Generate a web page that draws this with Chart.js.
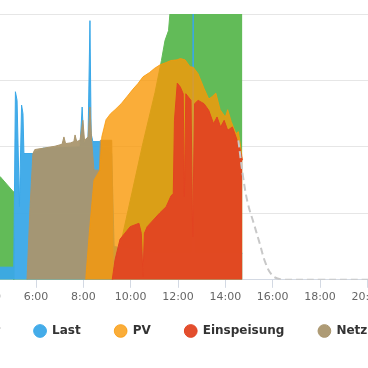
<!DOCTYPE html>
<html>
<head>
<meta charset="utf-8">
<script src="https://cdn.jsdelivr.net/npm/chart.js@4/dist/chart.umd.min.js"></script>
<style>
  html, body { margin:0; padding:0; background:#fff; width:368px; height:368px; overflow:hidden; }
  #wrap { position:absolute; left:-151px; top:0; width:633px; height:368px; }
</style>
</head>
<body>
<div id="wrap"><canvas id="chart"></canvas></div>
<script>
// values: [hour of day, watt]
const speicher = [[4.0,1650],[4.48,1555],[5.03,1330],[5.06,0],[9.17,0],[9.3,100],[9.9,1060],[10.52,2060],[11.03,2820],[11.3,3300],[11.45,3600],[11.6,3750],[11.75,4400],[14.72,4400]];
const last = [[4.0,190],[5.06,190],[5.13,2830],[5.2,2700],[5.3,1100],[5.39,2630],[5.45,2500],[5.49,1900],[5.87,1900],[6.3,1980],[7.86,2000],[7.95,2600],[8.02,2050],[8.2,2150],[8.28,3900],[8.33,2200],[8.4,2080],[8.7,2080],[8.75,2000],[9.2,1900],[9.3,500],[11.0,400],[12.6,400],[12.64,4400],[12.68,400],[14.72,400]];
const pv = [[8.1,0],[8.25,700],[8.45,1500],[8.7,1650],[8.78,2150],[8.96,2410],[9.15,2500],[9.34,2560],[9.6,2650],[9.84,2755],[10.1,2870],[10.3,2950],[10.52,3055],[10.8,3120],[11.0,3180],[11.24,3235],[11.5,3270],[11.7,3300],[11.96,3310],[12.1,3330],[12.3,3310],[12.51,3205],[12.64,3200],[12.85,3100],[13.1,2880],[13.3,2720],[13.45,2760],[13.6,2810],[13.78,2560],[14.0,2450],[14.1,2560],[14.25,2380],[14.45,2200],[14.55,2230],[14.65,2000],[14.72,1800]];
const einspeisung = [[9.22,0],[9.34,300],[9.55,610],[9.8,720],[9.98,800],[10.35,850],[10.45,700],[10.52,50],[10.58,700],[10.7,800],[11.24,1010],[11.5,1100],[11.7,1260],[11.8,1300],[11.85,2400],[11.97,2960],[12.1,2900],[12.22,2800],[12.27,1250],[12.33,2800],[12.55,2700],[12.62,650],[12.7,2650],[12.85,2700],[13.1,2650],[13.3,2550],[13.5,2350],[13.65,2450],[13.8,2300],[13.95,2400],[14.1,2250],[14.3,2300],[14.45,2150],[14.6,2000],[14.72,1800]];
const netzbezug = [[5.62,0],[5.75,1100],[5.87,1900],[5.95,1960],[6.3,1980],[6.8,2010],[7.1,2040],[7.18,2150],[7.25,2050],[7.45,2060],[7.6,2080],[7.65,2180],[7.72,2080],[7.86,2100],[7.98,2400],[8.05,2100],[8.2,2150],[8.28,2600],[8.35,2100],[8.45,1650],[8.68,1650],[8.72,2100],[9.2,2100],[9.26,0]];
const prognose = [[14.55,2100],[14.75,1550],[14.95,1150],[15.2,850],[15.45,550],[15.7,250],[15.95,80],[16.2,20],[16.5,0],[18,0],[20,0],[22,0],[24,0]];

const pts = a => a.map(([x,y]) => ({x, y}));

const area = (label, data, color, fill, order) => ({
  label, data: pts(data), order,
  borderColor: color, backgroundColor: fill,
  borderWidth: 1, fill: 'origin', pointRadius: 0, tension: 0
});

const ds = [
  area('Speicher',    speicher,    'rgb(98,187,88)',  'rgb(98,187,88)',        4),
  area('Last',        last,        'rgb(58,168,232)', 'rgba(58,168,232,0.95)', 3),
  area('PV',          pv,          'rgba(249,153,8,0.8)', 'rgba(249,153,8,0.8)', 1),
  area('Einspeisung', einspeisung, 'rgb(226,68,34)',  'rgba(226,68,34,0.95)',  0),
  area('Netzbezug',   netzbezug,   'rgb(170,150,110)','rgba(170,150,110,0.95)',2),
  { label:'Prognose', data: pts(prognose), order:-1, borderColor:'#c8c8c8', borderWidth:2,
    borderDash:[7,4], fill:false, pointRadius:0, tension:0.4 }
];

// legend sits closer to the axis than chart.js would put it (wide item gaps)
const legendUp = {
  id: 'legendUp',
  afterLayout(chart) {
    const l = chart.legend, s = chart.scales.x;
    const d = l.top - (s.bottom - 16);
    l.top -= d; l.bottom -= d;
  }
};

new Chart(document.getElementById('chart'), {
  type: 'line',
  data: { datasets: ds },
  plugins: [legendUp],
  options: {
    responsive: true, maintainAspectRatio: false, animation: false,
    layout: { padding: { top:14, left:20, right:20, bottom:5 } },
    scales: {
      x: {
        type: 'linear', min: 0, max: 24,
        ticks: { stepSize: 2, autoSkip:false, maxRotation:0, padding: 3,
                 color:'#666', font:{ family:'DejaVu Sans', size:11 },
                 callback: v => v + ':00' },
        grid: { drawOnChartArea:false, drawTicks:true, tickLength:8, color:'#d3d9e3' },
        border: { display:true, color:'#d3d9e3' }
      },
      y: {
        min: 0, max: 4000,
        ticks: { stepSize: 1000, display:false },
        grid: { color:'#e6e6e6', drawTicks:false },
        border: { display:false },
        afterFit: s => { s.width = 25; }
      }
    },
    plugins: {
      tooltip: { enabled:false },
      legend: {
        position: 'bottom',
        labels: {
          usePointStyle: true, pointStyle: 'circle', boxWidth: 12, boxHeight: 9,
          padding: 34, color:'#333', font:{ family:'DejaVu Sans', size:12, weight:'bold' },
          filter: it => it.text !== 'Prognose',
          sort: (a,b) => a.datasetIndex - b.datasetIndex
        }
      }
    }
  }
});
</script>
</body>
</html>
